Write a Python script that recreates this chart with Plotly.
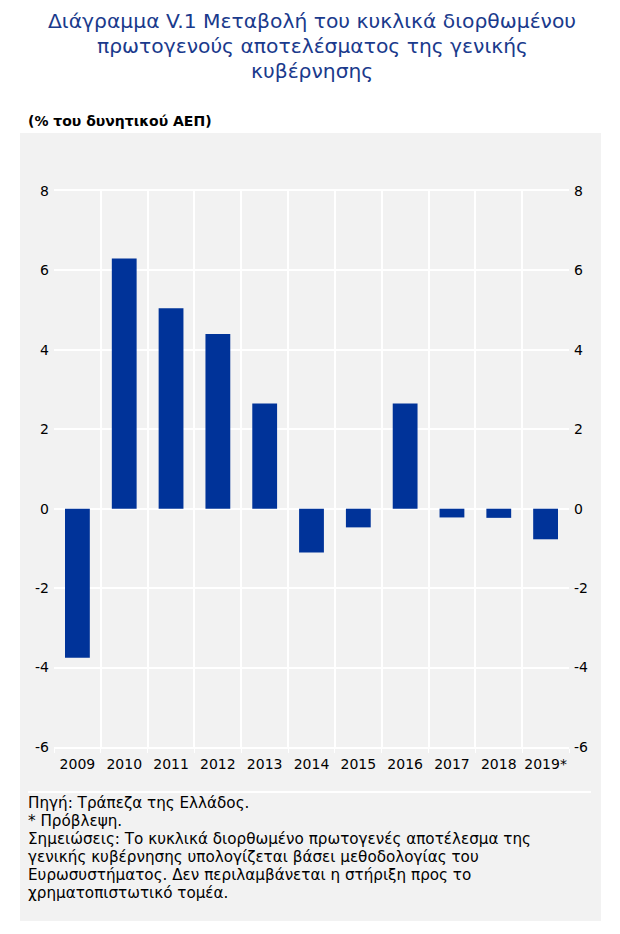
import plotly.graph_objects as go

years = ["2009", "2010", "2011", "2012", "2013", "2014", "2015", "2016", "2017", "2018", "2019*"]
values = [-3.75, 6.3, 5.05, 4.4, 2.65, -1.1, -0.47, 2.65, -0.22, -0.23, -0.77]
y_ticks = [-6, -4, -2, 0, 2, 4, 6, 8]
y_ticktext = ["-6", "-4", "-2", "0", "2", "4", "6", "8"]

title_lines = [
    "Διάγραμμα V.1 Μεταβολή του κυκλικά διορθωμένου",
    "πρωτογενούς αποτελέσματος της γενικής",
    "κυβέρνησης",
]
subtitle = "(% του δυνητικού ΑΕΠ)"
note_lines = [
    "Πηγή: Τράπεζα της Ελλάδος.",
    "* Πρόβλεψη.",
    "Σημειώσεις: Το κυκλικά διορθωμένο πρωτογενές αποτέλεσμα της",
    "γενικής κυβέρνησης υπολογίζεται βάσει μεθοδολογίας του",
    "Ευρωσυστήματος. Δεν περιλαμβάνεται η στήριξη προς το",
    "χρηματοπιστωτικό τομέα.",
]

W, H = 620, 934
L, R, T, B = 54, 51, 191, 187
pw, ph = W - L - R, H - T - B

def px_x(x):
    return (x - L) / pw

def px_y(y):
    return (H - B - y) / ph

font = "DejaVu Sans, Liberation Sans, Arial, sans-serif"

fig = go.Figure()
fig.add_trace(go.Bar(x=years, y=values, marker=dict(color="#003399", line=dict(width=0)),
                     width=0.53, showlegend=False))
fig.add_trace(go.Scatter(x=years, y=values, yaxis="y2", mode="markers",
                         marker=dict(opacity=0, size=1), showlegend=False, hoverinfo="skip"))

axis_common = dict(range=[-6, 8], tickvals=y_ticks, ticktext=y_ticktext,
                   gridcolor="white", gridwidth=1.5, ticklabelstandoff=4,
                   zeroline=False, tickfont=dict(family=font, size=14, color="black"),
                   showline=False, ticks="")
fig.update_layout(
    width=W, height=H,
    margin=dict(l=L, r=R, t=T, b=B, pad=0),
    paper_bgcolor="white", plot_bgcolor="#f2f2f2",
    xaxis=dict(type="category", range=[-0.5, len(years) - 0.5], tickson="boundaries",
               showgrid=True, gridcolor="white", gridwidth=1.5,
               showline=True, linecolor="white", linewidth=1.5, mirror=True,
               ticks="outside", ticklen=4, tickcolor="white", tickangle=0, ticklabelstandoff=3,
               tickfont=dict(family=font, size=14, color="black")),
    yaxis=dict(side="left", showgrid=True, **axis_common),
    yaxis2=dict(side="right", overlaying="y", showgrid=False, **axis_common),
)

shapes = [
    dict(type="rect", xref="paper", yref="paper", x0=px_x(20), x1=px_x(601), y0=px_y(921), y1=px_y(133),
         fillcolor="#f2f2f2", line=dict(width=0), layer="below"),
    dict(type="line", xref="paper", yref="paper", x0=px_x(28), x1=px_x(591), y0=px_y(792), y1=px_y(792),
         line=dict(color="white", width=2), layer="below"),
]
annotations = []
for i, t in enumerate(title_lines):
    annotations.append(dict(text=t, xref="paper", yref="paper", x=px_x(312), y=px_y(21 + 25 * i),
                            xanchor="center", yanchor="middle", showarrow=False,
                            font=dict(family=font, size=20.3, color="#1a3a8c")))
annotations.append(dict(text="<b>" + subtitle + "</b>", xref="paper", yref="paper", x=px_x(26), y=px_y(121),
                        xanchor="left", yanchor="middle", showarrow=False,
                        font=dict(family=font, size=14, color="black")))
for i, t in enumerate(note_lines):
    annotations.append(dict(text=t, xref="paper", yref="paper", x=px_x(26), y=px_y(803 + 18 * i),
                            xanchor="left", yanchor="middle", showarrow=False,
                            font=dict(family=font, size=15.2, color="black")))
fig.update_layout(shapes=shapes, annotations=annotations)

fig.write_html("out.html", config={"displayModeBar": False},
               post_script="document.body.style.margin='0';document.body.style.overflow='hidden';")
